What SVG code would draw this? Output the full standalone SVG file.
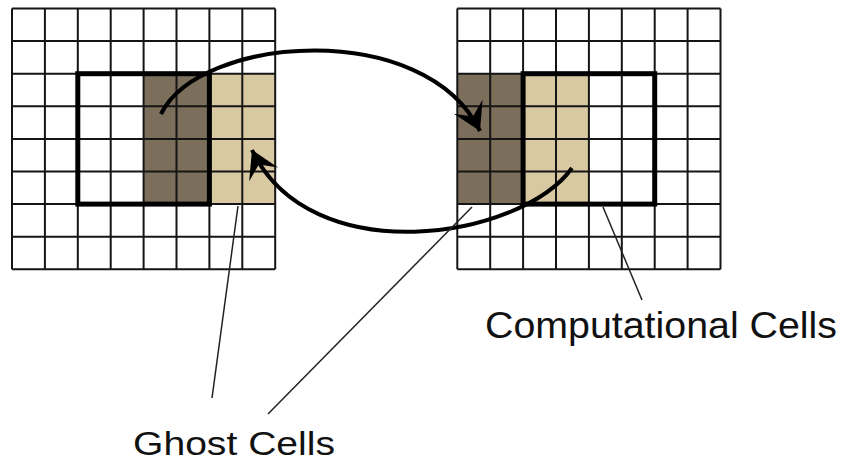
<svg xmlns="http://www.w3.org/2000/svg" xmlns:xlink="http://www.w3.org/1999/xlink" width="843" height="463" viewBox="0 0 843 463">
  <style>
    .bg { fill: #ffffff; }
    .dark { fill: #7b6e5b; }
    .tan { fill: #d8c9a3; }
    .grid { fill: none; stroke: #151515; stroke-width: 2; }
    .thick { fill: none; stroke: #000000; stroke-width: 5; }
    .arrow { fill: none; stroke: #000000; stroke-width: 4; }
    .leader { fill: none; stroke: #222222; stroke-width: 1.5; }
    .label { font-family: "Liberation Sans", Arial, sans-serif; font-size: 36px; fill: #111111; }
  </style>
  <defs>
    <path id="gridlines" class="grid" d="M0,0 V260.8 M32.9,0 V260.8 M65.8,0 V260.8 M98.7,0 V260.8 M131.6,0 V260.8 M164.5,0 V260.8 M197.4,0 V260.8 M230.3,0 V260.8 M263.2,0 V260.8 M0,0 H263.2 M0,32.6 H263.2 M0,65.2 H263.2 M0,97.8 H263.2 M0,130.4 H263.2 M0,163 H263.2 M0,195.6 H263.2 M0,228.2 H263.2 M0,260.8 H263.2"/>
    <marker id="head" markerUnits="userSpaceOnUse" viewBox="-28 -17 30 34" refX="0" refY="0" markerWidth="30" markerHeight="34" orient="auto">
      <path d="M0,0 L-27,-16 L-16,0 L-27,16 Z" fill="#000000"/>
    </marker>
  </defs>

  <g id="left-grid">
    <rect class="bg" x="12" y="8.5" width="263.2" height="260.8"/>
    <rect class="dark" x="143.6" y="73.7" width="65.8" height="130.4"/>
    <rect class="tan" x="209.4" y="73.7" width="65.8" height="130.4"/>
    <use xlink:href="#gridlines" href="#gridlines" x="12" y="8.5"/>
    <rect class="thick" x="77.8" y="73.7" width="131.6" height="130.4"/>
  </g>

  <g id="right-grid">
    <rect class="bg" x="457.3" y="8.5" width="263.2" height="260.8"/>
    <rect class="dark" x="457.3" y="73.7" width="65.8" height="130.4"/>
    <rect class="tan" x="523.1" y="73.7" width="65.8" height="130.4"/>
    <use xlink:href="#gridlines" href="#gridlines" x="457.3" y="8.5"/>
    <rect class="thick" x="523.1" y="73.7" width="131.6" height="130.4"/>
  </g>

  <g id="connectors">
    <path class="arrow" d="M161,114 C200,35 425,18 480,131" marker-end="url(#head)"/>
    <path class="arrow" d="M572,168 C520,240 310,272 252,150" marker-end="url(#head)"/>
    <path class="leader" d="M238,206 L212,398"/>
    <path class="leader" d="M472,207 L268,414"/>
    <path class="leader" d="M603,207 L642,300"/>
  </g>

  <g id="ghost-label">
    <text class="label" x="133" y="455" style="font-size:34px" textLength="202" lengthAdjust="spacingAndGlyphs">Ghost Cells</text>
  </g>
  <g id="computational-label">
    <text class="label" x="485" y="338" textLength="352" lengthAdjust="spacingAndGlyphs">Computational Cells</text>
  </g>
</svg>
